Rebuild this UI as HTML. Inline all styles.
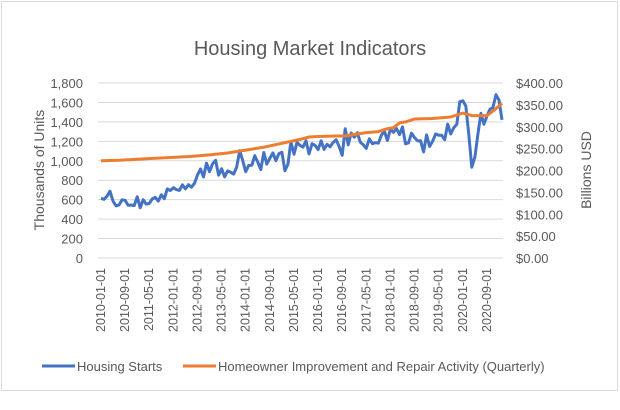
<!DOCTYPE html>
<html><head><meta charset="utf-8"><style>
body{margin:0;background:#fff;}
svg{display:block;font-family:"Liberation Sans",sans-serif;}
</style></head><body>
<svg id="s" width="620" height="410" xmlns="http://www.w3.org/2000/svg">
<rect x="1.5" y="1.5" width="616" height="389" fill="#fff" stroke="#d9d9d9"/>
<text x="310" y="55" text-anchor="middle" font-size="20" fill="#595959">Housing Market Indicators</text>
<g id="grid"></g>
<text transform="translate(44,170) rotate(-90)" text-anchor="middle" font-size="14" fill="#595959">Thousands of Units</text>
<text transform="translate(591,170) rotate(-90)" text-anchor="middle" font-size="14" fill="#595959">Billions USD</text>
<polyline id="blue" fill="none" stroke="#4472c4" stroke-width="3" stroke-linejoin="round"/>
<polyline id="orange" fill="none" stroke="#ed7d31" stroke-width="3" stroke-linejoin="round"/>
<line x1="42" y1="366" x2="75" y2="366" stroke="#4472c4" stroke-width="3"/>
<text x="77" y="371" font-size="13" fill="#595959">Housing Starts</text>
<line x1="183" y1="366" x2="216" y2="366" stroke="#ed7d31" stroke-width="3"/>
<text x="218" y="371" font-size="13" fill="#595959">Homeowner Improvement and Repair Activity (Quarterly)</text>
</svg>
<script>
var NS="http://www.w3.org/2000/svg",s=document.getElementById('s'),g=document.getElementById('grid');
function Y(v){return 258-v*175/1800;}
function X(m){return 101+m*3.015;}
function el(t,a,txt){var e=document.createElementNS(NS,t);for(var k in a)e.setAttribute(k,a[k]);if(txt!=null)e.textContent=txt;g.appendChild(e);return e;}
for(var i=0;i<=9;i++){var v=i*200,y=Y(v);
el('line',{x1:98,x2:503,y1:y,y2:y,stroke:'#d9d9d9','stroke-width':1});
el('text',{x:83,y:y+5,'text-anchor':'end','font-size':13,fill:'#595959'},v.toLocaleString('en-US'));}
for(var i=0;i<=8;i++){var y=258-i*175/8;
el('text',{x:516,y:y+5,'font-size':13,fill:'#595959'},'$'+(i*50).toFixed(2));}
var labs=['2010-01-01','2010-09-01','2011-05-01','2012-01-01','2012-09-01','2013-05-01','2014-01-01','2014-09-01','2015-05-01','2016-01-01','2016-09-01','2017-05-01','2018-01-01','2018-09-01','2019-05-01','2020-01-01','2020-09-01'];
for(var i=0;i<labs.length;i++){var x=X(i*8)+4;
el('text',{transform:'translate('+x+',268) rotate(-90)','text-anchor':'end','font-size':12.5,fill:'#595959'},labs[i]);}
var h=[614,604,636,687,583,536,546,599,594,543,545,539,630,517,600,554,561,608,623,585,650,610,711,694,723,704,695,753,711,754,728,768,854,915,833,976,888,969,1005,852,919,835,896,883,863,936,1105,1003,888,952,953,1052,985,909,1085,966,1024,1081,1001,1074,1087,898,964,1196,1068,1190,1158,1141,1207,1071,1176,1158,1114,1206,1117,1170,1144,1189,1216,1146,1056,1330,1163,1286,1243,1289,1191,1164,1127,1226,1176,1186,1182,1264,1304,1209,1327,1293,1332,1269,1348,1175,1185,1284,1237,1204,1206,1091,1266,1147,1203,1276,1263,1262,1217,1376,1276,1340,1375,1608,1617,1564,1269,934,1038,1273,1487,1376,1459,1530,1547,1680,1625,1420];
var p=[];for(var i=0;i<h.length;i++)p.push(X(i).toFixed(1)+','+Y(h[i]).toFixed(1));
document.getElementById('blue').setAttribute('points',p.join(' '));
var o=[[0,1000],[6,1005],[12,1015],[18,1025],[24,1035],[30,1045],[36,1060],[42,1080],[48,1110],[54,1140],[60,1180],[66,1220],[69,1245],[72,1250],[78,1255],[81,1255],[84,1270],[88,1290],[92,1300],[95,1330],[97,1340],[99,1390],[101,1400],[104,1430],[110,1435],[116,1450],[120,1490],[123,1465],[128,1465],[130,1510],[133,1590]];
p=[];for(var i=0;i<o.length;i++)p.push(X(o[i][0]).toFixed(1)+','+Y(o[i][1]).toFixed(1));
document.getElementById('orange').setAttribute('points',p.join(' '));
</script>
</body></html>
